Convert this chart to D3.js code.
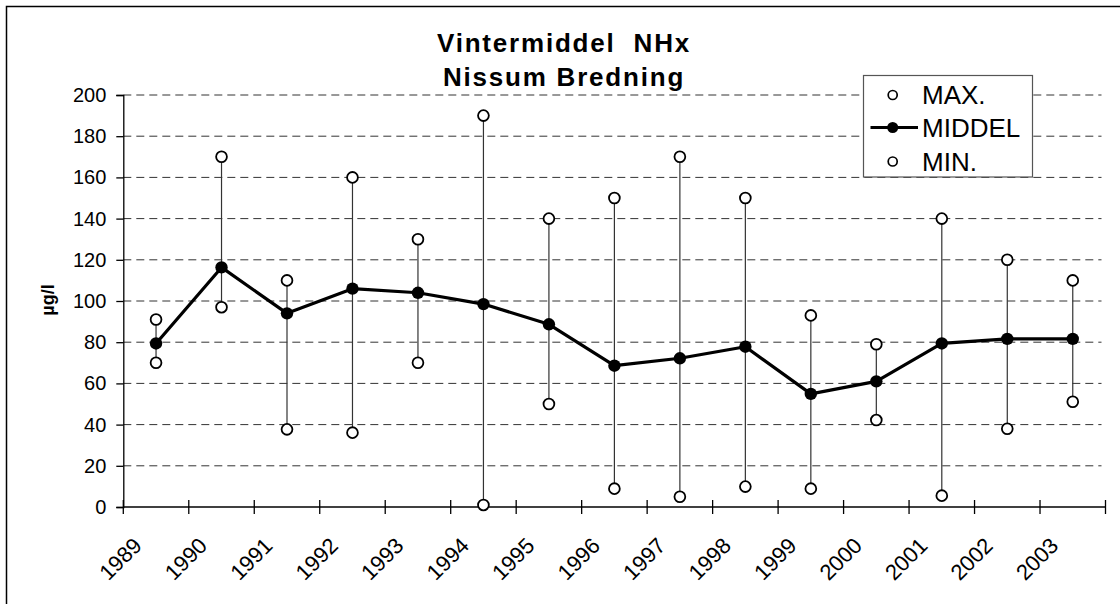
<!DOCTYPE html>
<html><head><meta charset="utf-8">
<script src="https://cdn.jsdelivr.net/npm/d3@7"></script>
<style>
html,body{margin:0;padding:0;background:#fff;}
svg{display:block;font-family:Arial,"Liberation Sans",sans-serif;}
</style></head>
<body>
<svg id="chart" width="1120" height="604"></svg>
<script>
const years = ["1989","1990","1991","1992","1993","1994","1995","1996","1997","1998","1999","2000","2001","2002","2003"];
const maxVals = [91,170,110,160,130,190,140,150,170,150,93,79,140,120,110];
const meanVals = [79.4,116.3,94,106,104,98.5,88.7,68.6,72.2,77.8,54.9,61,79.4,81.6,81.6];
const minVals = [70,97,37.7,36.1,70,1,50,8.9,5,9.9,8.9,42.2,5.5,38,51.1];
const yTicks = [0,20,40,60,80,100,120,140,160,180,200];
const titleLines = ["Vintermiddel  NHx","Nissum Bredning"];
const yLabel = "µg/l";
const legendItems = ["MAX.","MIDDEL","MIN."];

const svg = d3.select("#chart");
const L = 123.3, R = 1105.5, T = 95, B = 507;
const x = d3.scaleBand().domain(years).range([L, R]).padding(0);
const bw = x.bandwidth();
const cx = d => x(d) + bw / 2;
const y = d3.scaleLinear().domain([0, 200]).range([B, T]);

// outer frame
svg.append("rect").attr("x", 6.5).attr("y", 6.5).attr("width", 1140).attr("height", 640)
  .attr("fill", "none").attr("stroke", "#000").attr("stroke-width", 1.5);

// gridlines
svg.append("g").selectAll("line").data(yTicks.filter(t => t > 0)).join("line")
  .attr("x1", L).attr("x2", R - 4).attr("y1", d => y(d)).attr("y2", d => y(d))
  .attr("stroke", "#333").attr("stroke-width", 1).attr("stroke-dasharray", "8,5");

// y axis
const yAxis = svg.append("g").attr("transform", `translate(${L},0)`)
  .call(d3.axisLeft(y).tickValues(yTicks).tickSize(7).tickPadding(10));
yAxis.select(".domain").attr("stroke", "#000").attr("stroke-width", 1.3);
yAxis.selectAll(".tick line").attr("stroke", "#000").attr("stroke-width", 1.3);
yAxis.selectAll("text").attr("font-size", 20).attr("font-family", "Arial, 'Liberation Sans', sans-serif").attr("fill", "#000");

// x axis
svg.append("line").attr("x1", L).attr("x2", R).attr("y1", B).attr("y2", B)
  .attr("stroke", "#000").attr("stroke-width", 1.3);
const bounds = years.map(d => x(d)).concat([R]);
svg.append("g").selectAll("line").data(bounds).join("line")
  .attr("x1", d => d).attr("x2", d => d).attr("y1", B - 7).attr("y2", B + 7)
  .attr("stroke", "#000").attr("stroke-width", 1.3);
svg.append("g").selectAll("text").data(years).join("text")
  .attr("transform", d => `translate(${cx(d) - 13},547) rotate(-45)`)
  .attr("text-anchor", "end").attr("font-size", 22).attr("fill", "#000")
  .text(d => d);

// min-max lines
const idx = d3.range(years.length);
svg.append("g").selectAll("line").data(idx).join("line")
  .attr("x1", i => cx(years[i])).attr("x2", i => cx(years[i]))
  .attr("y1", i => y(minVals[i])).attr("y2", i => y(maxVals[i]))
  .attr("stroke", "#333").attr("stroke-width", 1.2);

// mean line
const line = d3.line().x(i => cx(years[i])).y(i => y(meanVals[i]));
svg.append("path").datum(idx).attr("d", line).attr("fill", "none")
  .attr("stroke", "#000").attr("stroke-width", 3.2).attr("stroke-linejoin", "round");

// circles
const openCircle = (vals) => svg.append("g").selectAll("circle").data(idx).join("circle")
  .attr("cx", i => cx(years[i])).attr("cy", i => y(vals[i])).attr("r", 5.4)
  .attr("fill", "#fff").attr("stroke", "#000").attr("stroke-width", 1.8);
openCircle(maxVals);
openCircle(minVals);
svg.append("g").selectAll("circle").data(idx).join("circle")
  .attr("cx", i => cx(years[i])).attr("cy", i => y(meanVals[i])).attr("r", 6.2)
  .attr("fill", "#000");

// title
svg.append("g").selectAll("text").data(titleLines).join("text")
  .attr("x", 564).attr("y", (d, i) => 51.5 + i * 34.5)
  .attr("text-anchor", "middle").attr("font-size", 26).attr("font-weight", "bold")
  .attr("letter-spacing", 1.8).style("white-space", "pre").attr("xml:space", "preserve")
  .attr("fill", "#000").text(d => d);

// y label
svg.append("text").attr("transform", "translate(54,300) rotate(-90)")
  .attr("text-anchor", "middle").attr("font-size", 18).attr("font-weight", "bold")
  .text(yLabel);

// legend
const lg = svg.append("g");
lg.append("rect").attr("x", 863.5).attr("y", 75.5).attr("width", 169).attr("height", 101.5)
  .attr("fill", "#fff").attr("stroke", "#555").attr("stroke-width", 1.2);
const ly = [95, 127.5, 161.5];
lg.append("circle").attr("cx", 892.7).attr("cy", ly[0]).attr("r", 4.5)
  .attr("fill", "#fff").attr("stroke", "#000").attr("stroke-width", 1.7);
lg.append("line").attr("x1", 870.5).attr("x2", 918).attr("y1", ly[1]).attr("y2", ly[1])
  .attr("stroke", "#000").attr("stroke-width", 3.2);
lg.append("circle").attr("cx", 892.7).attr("cy", ly[1]).attr("r", 5.5).attr("fill", "#000");
lg.append("circle").attr("cx", 892.7).attr("cy", ly[2]).attr("r", 4.5)
  .attr("fill", "#fff").attr("stroke", "#000").attr("stroke-width", 1.7);
lg.selectAll("text.lt").data(legendItems).join("text").attr("class", "lt")
  .attr("x", 922).attr("y", (d, i) => ly[i]).attr("dy", "0.36em")
  .attr("font-size", 26).attr("fill", "#000").text(d => d);
</script>
</body></html>
